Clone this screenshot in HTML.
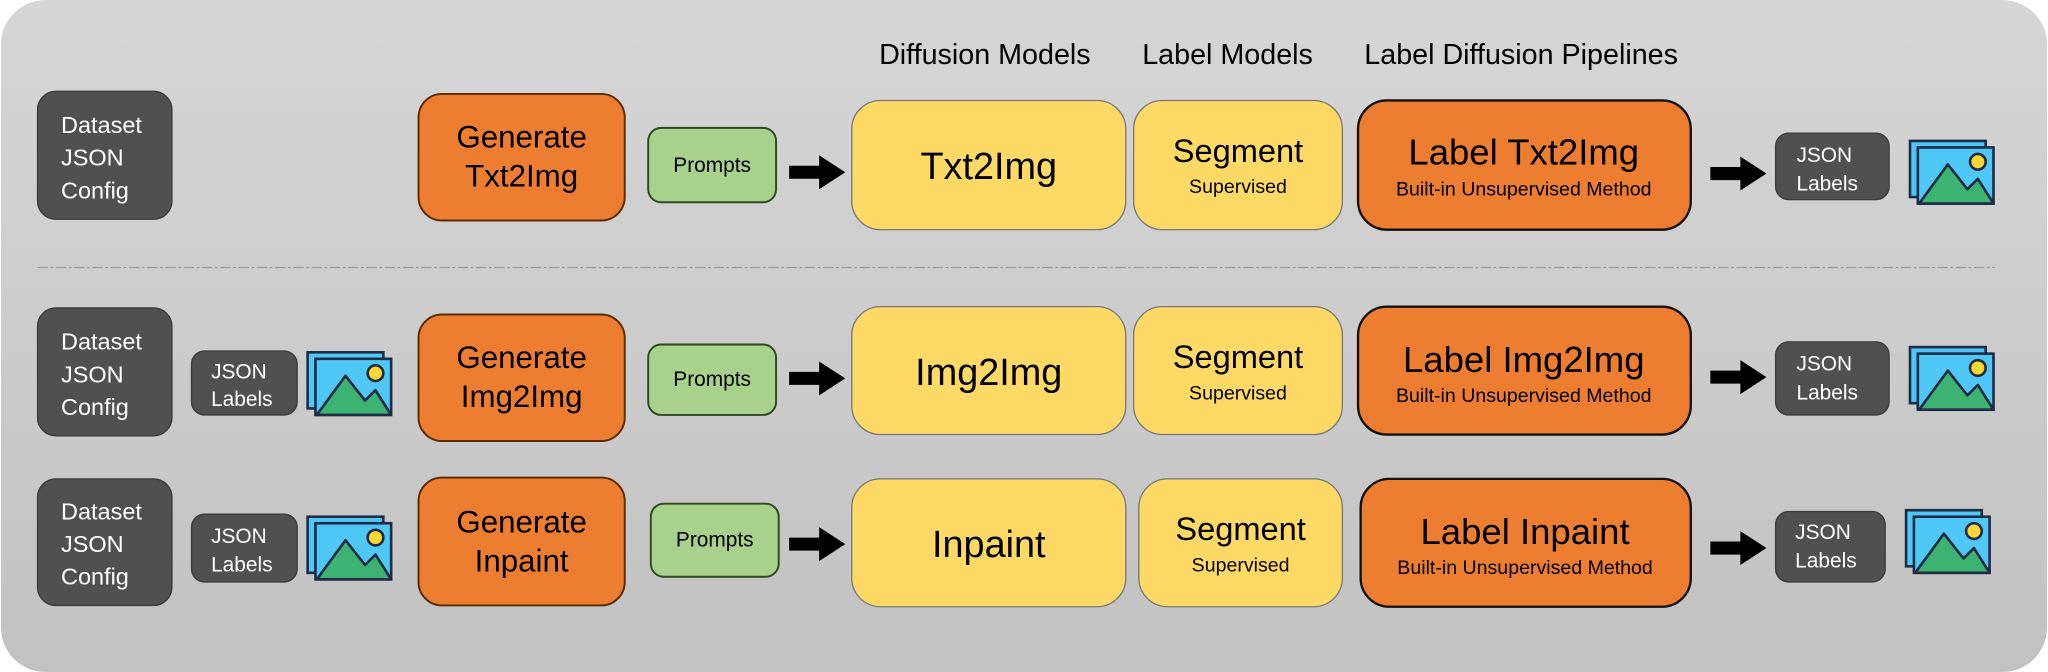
<!DOCTYPE html>
<html><head><meta charset="utf-8"><style>
html,body{margin:0;padding:0;background:#fff;}
svg{display:block;}
text{font-family:"Liberation Sans Narrow","Liberation Sans",sans-serif;}
</style></head><body>
<svg width="2048" height="672" viewBox="0 0 1568 515" xmlns="http://www.w3.org/2000/svg">
<defs>
<linearGradient id="bg" x1="0" y1="0" x2="0" y2="1">
<stop offset="0" stop-color="#d6d6d6"/><stop offset="1" stop-color="#c2c2c2"/>
</linearGradient>
<g id="icon">
<rect x="0" y="0" width="58" height="43" fill="#4fc8f8" stroke="#1f2a44" stroke-width="2"/>
<rect x="6" y="5" width="58" height="43" fill="#4fc8f8" stroke="#1f2a44" stroke-width="2"/>
<circle cx="52" cy="16" r="6" fill="#fdd835" stroke="#1f2a44" stroke-width="2"/>
<polygon points="7,48 29,18 44,37 52,29 64,48" fill="#3cb371" stroke="#1f2a44" stroke-width="2" stroke-linejoin="round"/>
</g>
<g id="arrow"><polygon points="0,-5 23,-5 23,-13 43,0 23,13 23,5 0,5" fill="#000"/></g>
</defs>
<rect x="0" y="0" width="1568" height="515" rx="34" fill="url(#bg)"/>

<g font-size="22" fill="#000" text-anchor="middle">
<text x="754" y="49">Diffusion Models</text>
<text x="940" y="49">Label Models</text>
<text x="1165" y="49">Label Diffusion Pipelines</text>
</g>

<line x1="28" y1="205" x2="1528" y2="205" stroke="#9a9a9a" stroke-width="1" stroke-dasharray="8,2,2,2"/>

<!-- Row 1 -->
<rect x="28" y="70" width="103" height="98" rx="14" fill="#505050" stroke="#3a3a3a"/>
<g fill="#fff" font-size="18"><text x="46" y="102">Dataset</text><text x="46" y="127">JSON</text><text x="46" y="152">Config</text></g>
<rect x="320" y="72" width="158" height="97" rx="18" fill="#ed7d31" stroke="#5a2a00" stroke-width="1.5"/>
<g font-size="24" text-anchor="middle"><text x="399" y="113">Generate</text><text x="399" y="143">Txt2Img</text></g>
<rect x="496" y="98" width="98" height="57" rx="10" fill="#a9d18e" stroke="#2f4a1f" stroke-width="1.5"/>
<text x="545" y="132" font-size="16" text-anchor="middle">Prompts</text>
<use href="#arrow" x="604" y="132"/>
<rect x="652" y="77" width="210" height="99" rx="22" fill="#ffd966" stroke="#777" stroke-width="1"/>
<text x="757" y="137" font-size="29" text-anchor="middle">Txt2Img</text>
<rect x="868" y="77" width="160" height="99" rx="22" fill="#ffd966" stroke="#777" stroke-width="1"/>
<text x="948" y="124" font-size="25" text-anchor="middle">Segment</text>
<text x="948" y="148" font-size="15" text-anchor="middle">Supervised</text>
<rect x="1040" y="77" width="255" height="99" rx="22" fill="#ed7d31" stroke="#111" stroke-width="1.8"/>
<text x="1167" y="126" font-size="28" text-anchor="middle">Label Txt2Img</text>
<text x="1167" y="150" font-size="15" text-anchor="middle">Built-in Unsupervised Method</text>
<use href="#arrow" x="1310" y="133"/>
<rect x="1360" y="102" width="87" height="51" rx="10" fill="#505050" stroke="#3a3a3a"/>
<g fill="#fff" font-size="16"><text x="1376" y="124">JSON</text><text x="1376" y="146">Labels</text></g>
<use href="#icon" x="1463" y="108"/>

<!-- Row 2 -->
<rect x="28" y="236" width="103" height="98" rx="14" fill="#505050" stroke="#3a3a3a"/>
<g fill="#fff" font-size="18"><text x="46" y="268">Dataset</text><text x="46" y="293">JSON</text><text x="46" y="318">Config</text></g>
<rect x="146" y="269" width="81" height="49" rx="10" fill="#505050" stroke="#3a3a3a"/>
<g fill="#fff" font-size="16"><text x="161" y="290">JSON</text><text x="161" y="311">Labels</text></g>
<use href="#icon" x="235" y="270"/>
<rect x="320" y="241" width="158" height="97" rx="18" fill="#ed7d31" stroke="#5a2a00" stroke-width="1.5"/>
<g font-size="24" text-anchor="middle"><text x="399" y="282">Generate</text><text x="399" y="312">Img2Img</text></g>
<rect x="496" y="264" width="98" height="54" rx="10" fill="#a9d18e" stroke="#2f4a1f" stroke-width="1.5"/>
<text x="545" y="296" font-size="16" text-anchor="middle">Prompts</text>
<use href="#arrow" x="604" y="290"/>
<rect x="652" y="235" width="210" height="98" rx="22" fill="#ffd966" stroke="#777" stroke-width="1"/>
<text x="757" y="295" font-size="29" text-anchor="middle">Img2Img</text>
<rect x="868" y="235" width="160" height="98" rx="22" fill="#ffd966" stroke="#777" stroke-width="1"/>
<text x="948" y="282" font-size="25" text-anchor="middle">Segment</text>
<text x="948" y="306" font-size="15" text-anchor="middle">Supervised</text>
<rect x="1040" y="235" width="255" height="98" rx="22" fill="#ed7d31" stroke="#111" stroke-width="1.8"/>
<text x="1167" y="285" font-size="28" text-anchor="middle">Label Img2Img</text>
<text x="1167" y="308" font-size="15" text-anchor="middle">Built-in Unsupervised Method</text>
<use href="#arrow" x="1310" y="289"/>
<rect x="1360" y="262" width="87" height="56" rx="10" fill="#505050" stroke="#3a3a3a"/>
<g fill="#fff" font-size="16"><text x="1376" y="284">JSON</text><text x="1376" y="306">Labels</text></g>
<use href="#icon" x="1463" y="266"/>

<!-- Row 3 -->
<rect x="28" y="367" width="103" height="97" rx="14" fill="#505050" stroke="#3a3a3a"/>
<g fill="#fff" font-size="18"><text x="46" y="398">Dataset</text><text x="46" y="423">JSON</text><text x="46" y="448">Config</text></g>
<rect x="146" y="394" width="81" height="52" rx="10" fill="#505050" stroke="#3a3a3a"/>
<g fill="#fff" font-size="16"><text x="161" y="416">JSON</text><text x="161" y="438">Labels</text></g>
<use href="#icon" x="235" y="396"/>
<rect x="320" y="366" width="158" height="98" rx="18" fill="#ed7d31" stroke="#5a2a00" stroke-width="1.5"/>
<g font-size="24" text-anchor="middle"><text x="399" y="408">Generate</text><text x="399" y="438">Inpaint</text></g>
<rect x="498" y="386" width="98" height="56" rx="10" fill="#a9d18e" stroke="#2f4a1f" stroke-width="1.5"/>
<text x="547" y="419" font-size="16" text-anchor="middle">Prompts</text>
<use href="#arrow" x="604" y="417"/>
<rect x="652" y="367" width="210" height="98" rx="22" fill="#ffd966" stroke="#777" stroke-width="1"/>
<text x="757" y="427" font-size="29" text-anchor="middle">Inpaint</text>
<rect x="872" y="367" width="156" height="98" rx="22" fill="#ffd966" stroke="#777" stroke-width="1"/>
<text x="950" y="414" font-size="25" text-anchor="middle">Segment</text>
<text x="950" y="438" font-size="15" text-anchor="middle">Supervised</text>
<rect x="1042" y="367" width="253" height="98" rx="22" fill="#ed7d31" stroke="#111" stroke-width="1.8"/>
<text x="1168" y="417" font-size="28" text-anchor="middle">Label Inpaint</text>
<text x="1168" y="440" font-size="15" text-anchor="middle">Built-in Unsupervised Method</text>
<use href="#arrow" x="1310" y="420"/>
<rect x="1360" y="392" width="84" height="54" rx="10" fill="#505050" stroke="#3a3a3a"/>
<g fill="#fff" font-size="16"><text x="1375" y="413">JSON</text><text x="1375" y="435">Labels</text></g>
<use href="#icon" x="1460" y="391"/>
</svg>
</body></html>
